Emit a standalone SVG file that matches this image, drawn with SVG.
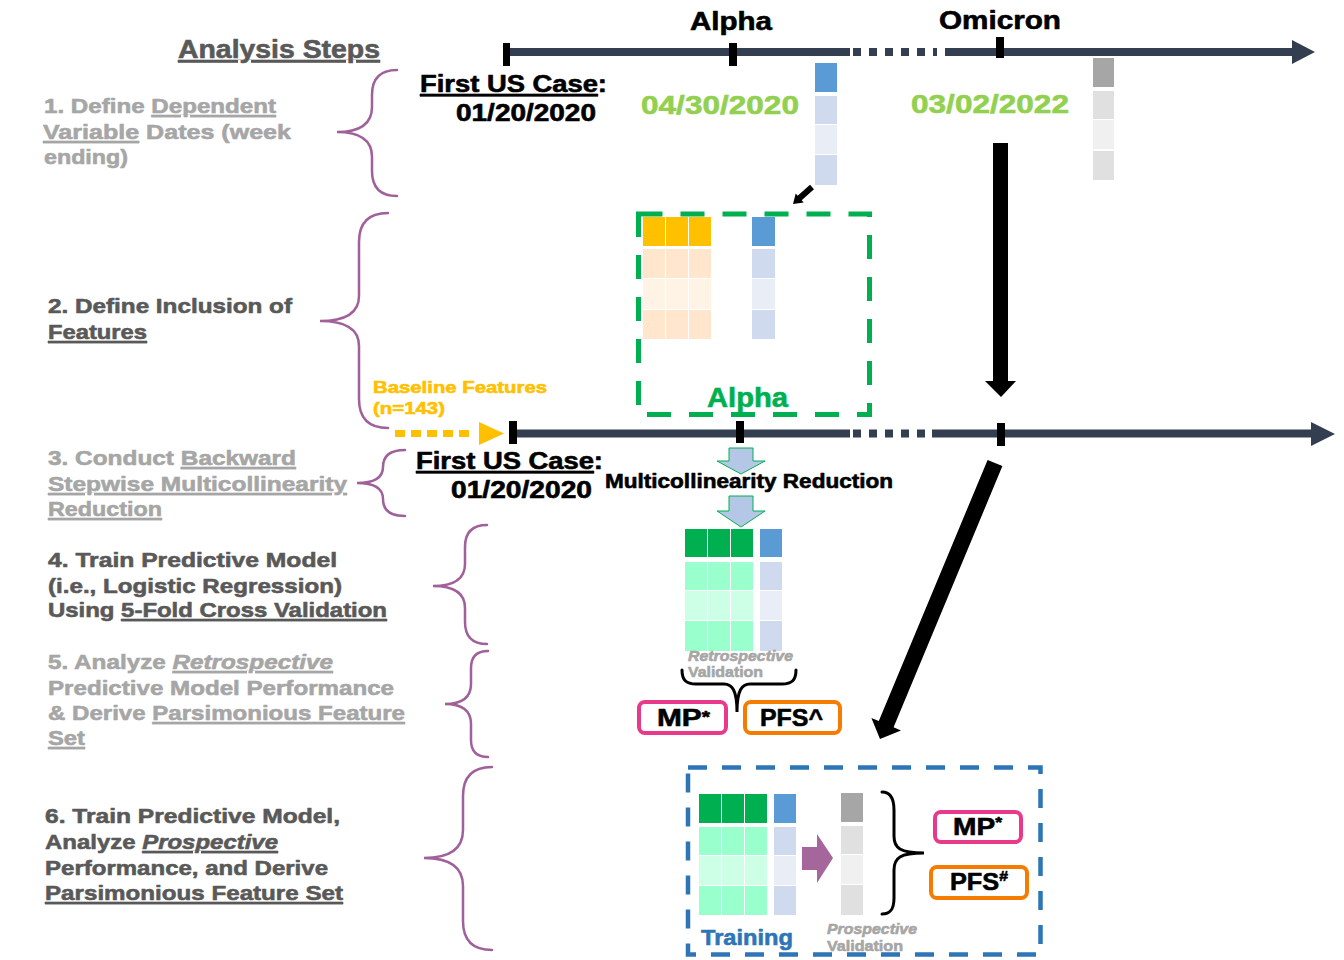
<svg xmlns="http://www.w3.org/2000/svg" width="1344" height="960" viewBox="0 0 1344 960">
<style>
text{font-family:"Liberation Sans",Arial,sans-serif;font-weight:700;stroke-width:0.6;stroke-linejoin:round}
.dk{fill:#595959;stroke:#595959}
.gr{fill:#a6a6a6;stroke:#a6a6a6}
.bk{fill:#000;stroke:#000}
.lg{fill:#92d050;stroke:#92d050}
.gn{fill:#00b050;stroke:#00b050}
.yl{fill:#ffc000;stroke:#ffc000}
.bl{fill:#2e75b6;stroke:#2e75b6}
.u{text-decoration:underline}
.i{font-style:italic}
.s20{font-size:21px}
.brace{fill:none;stroke:#a0609a;stroke-width:2.5;stroke-linecap:round}
.bbrace{fill:none;stroke:#000;stroke-width:3;stroke-linecap:round}
.tl{stroke:#333f50;stroke-width:8;fill:none}
.tld{stroke:#333f50;stroke-width:8;fill:none;stroke-dasharray:8 8}
.tick{fill:#000}
.b0{fill:#5b9bd5}.b1{fill:#cfdaee}.b2{fill:#e9edf6}
.g0{fill:#a6a6a6}.g1{fill:#e0e0e0}.g2{fill:#f0f0f0}
.o0{fill:#ffc000}.o1{fill:#ffe6cc}.o2{fill:#fff3e6}
.n0{fill:#00b050}.n1{fill:#99ffcc}.n2{fill:#ccffe6}
.mp{fill:#fff;stroke:#e8398b;stroke-width:4}
.pfs{fill:#fff;stroke:#f57c00;stroke-width:4}
.dnarrow{fill:#b4c7e7;stroke:#00b050;stroke-width:1}
</style>

<g id="steps">
<text x="178" y="58" font-size="25" class="dk u" textLength="202" lengthAdjust="spacingAndGlyphs">Analysis Steps</text>

<g id="step1">
<text x="44" y="113" class="gr s20" textLength="232" lengthAdjust="spacingAndGlyphs">1. Define <tspan class="u">Dependent</tspan></text>
<text x="43" y="139" class="gr s20" textLength="248" lengthAdjust="spacingAndGlyphs"><tspan class="u">Variable</tspan> Dates (week</text>
<text x="44" y="164" class="gr s20" textLength="84" lengthAdjust="spacingAndGlyphs">ending)</text>
</g>
<g id="step2">
<text x="48" y="313" class="dk s20" textLength="244" lengthAdjust="spacingAndGlyphs">2. Define Inclusion of</text>
<text x="48" y="339" class="dk s20 u" textLength="99" lengthAdjust="spacingAndGlyphs">Features</text>
</g>
<g id="step3">
<text x="48" y="465" class="gr s20" textLength="248" lengthAdjust="spacingAndGlyphs">3. Conduct <tspan class="u">Backward</tspan></text>
<text x="48" y="491" class="gr s20 u" textLength="299" lengthAdjust="spacingAndGlyphs">Stepwise Multicollinearity</text>
<text x="48" y="516" class="gr s20 u" textLength="114" lengthAdjust="spacingAndGlyphs">Reduction</text>
</g>
<g id="step4">
<text x="48" y="567" class="dk s20" textLength="289" lengthAdjust="spacingAndGlyphs">4. Train Predictive Model</text>
<text x="48" y="593" class="dk s20" textLength="294" lengthAdjust="spacingAndGlyphs">(i.e., Logistic Regression)</text>
<text x="48" y="617" class="dk s20" textLength="339" lengthAdjust="spacingAndGlyphs">Using <tspan class="u">5-Fold Cross Validation</tspan></text>
</g>
<g id="step5">
<text x="48" y="669" class="gr s20" textLength="285" lengthAdjust="spacingAndGlyphs">5. Analyze <tspan class="u i">Retrospective</tspan></text>
<text x="48" y="695" class="gr s20" textLength="346" lengthAdjust="spacingAndGlyphs">Predictive Model Performance</text>
<text x="48" y="720" class="gr s20" textLength="357" lengthAdjust="spacingAndGlyphs">&amp; Derive <tspan class="u">Parsimonious Feature</tspan></text>
<text x="48" y="745" class="gr s20 u" textLength="37" lengthAdjust="spacingAndGlyphs">Set</text>
</g>
<g id="step6">
<text x="45" y="823" class="dk s20" textLength="295" lengthAdjust="spacingAndGlyphs">6. Train Predictive Model,</text>
<text x="45" y="849" class="dk s20" textLength="233" lengthAdjust="spacingAndGlyphs">Analyze <tspan class="u i">Prospective</tspan></text>
<text x="45" y="875" class="dk s20" textLength="283" lengthAdjust="spacingAndGlyphs">Performance, and Derive</text>
<text x="45" y="900" class="dk s20 u" textLength="298" lengthAdjust="spacingAndGlyphs">Parsimonious Feature Set</text>
</g>
</g>

<g id="braces">
<path class="brace" d="M397,70 Q372,70 372,95 L372,107 Q372,132 337,132 Q372,132 372,157 L372,171 Q372,196 397,196"/>
<path class="brace" d="M388,213 Q359,213 359,242 L359,296 Q359,321 320,321 Q359,321 359,346 L359,399 Q359,428 388,428"/>
<path class="brace" d="M405,450 Q383,450 383,467 Q383,483 357,483 Q383,483 383,499 Q383,516 405,516"/>
<path class="brace" d="M487,525 Q465,525 465,547 L465,564 Q465,586 433,586 Q465,586 465,608 L465,622 Q465,644 487,644"/>
<path class="brace" d="M488,651 Q471,651 471,668 L471,684 Q471,704 445,704 Q471,704 471,724 L471,740 Q471,757 488,757"/>
<path class="brace" d="M492,767 Q463,767 463,796 L463,830 Q463,858 424,858 Q463,858 463,886 L463,921 Q463,950 492,950"/>
</g>

<g id="timeline-top">
<line class="tl" x1="506" y1="52" x2="850" y2="52"/>
<line class="tld" x1="853" y1="52" x2="937" y2="52"/>
<line class="tl" x1="945" y1="52" x2="1296" y2="52"/>
<polygon fill="#333f50" points="1292,40 1315,52 1292,64"/>
<rect class="tick" x="503" y="43" width="7" height="23"/>
<rect class="tick" x="729" y="43" width="8" height="23"/>
<rect class="tick" x="996" y="37" width="8" height="21"/>
<text x="690" y="30" font-size="25" class="bk" textLength="82" lengthAdjust="spacingAndGlyphs">Alpha</text>
<text x="939" y="29" font-size="25" class="bk" textLength="122" lengthAdjust="spacingAndGlyphs">Omicron</text>
<text x="420" y="92" font-size="23" class="bk" textLength="187" lengthAdjust="spacingAndGlyphs"><tspan class="u">First US Case</tspan>:</text>
<text x="456" y="121" font-size="23" class="bk" textLength="140" lengthAdjust="spacingAndGlyphs">01/20/2020</text>
<text x="641" y="114" font-size="26" class="lg" textLength="158" lengthAdjust="spacingAndGlyphs">04/30/2020</text>
<text x="911" y="113" font-size="26" class="lg" textLength="158" lengthAdjust="spacingAndGlyphs">03/02/2022</text>
</g>

<g id="col-alpha-dates">
<rect class="b0" x="815" y="63" width="22" height="29"/>
<rect class="b1" x="815" y="96" width="22" height="28"/>
<rect class="b2" x="815" y="125" width="22" height="29"/>
<rect class="b1" x="815" y="155" width="22" height="30"/>
</g>
<g id="col-omicron-dates">
<rect class="g0" x="1093" y="58" width="21" height="29"/>
<rect class="g1" x="1093" y="91" width="21" height="28"/>
<rect class="g2" x="1093" y="120" width="21" height="29"/>
<rect class="g1" x="1093" y="151" width="21" height="29"/>
</g>

<g id="alpha-box">
<rect x="638.5" y="214" width="231" height="200.5" fill="none" stroke="#00b050" stroke-width="5" stroke-dasharray="24 18"/>
<rect class="o0" x="643" y="217" width="22" height="29"/>
<rect class="o0" x="666" y="217" width="22" height="29"/>
<rect class="o0" x="689" y="217" width="22" height="29"/>
<rect class="o1" x="643" y="249" width="22" height="29"/>
<rect class="o1" x="666" y="249" width="22" height="29"/>
<rect class="o1" x="689" y="249" width="22" height="29"/>
<rect class="o2" x="643" y="279" width="22" height="30"/>
<rect class="o2" x="666" y="279" width="22" height="30"/>
<rect class="o2" x="689" y="279" width="22" height="30"/>
<rect class="o1" x="643" y="310" width="22" height="29"/>
<rect class="o1" x="666" y="310" width="22" height="29"/>
<rect class="o1" x="689" y="310" width="22" height="29"/>
<rect class="b0" x="752" y="217" width="23" height="29"/>
<rect class="b1" x="752" y="249" width="23" height="29"/>
<rect class="b2" x="752" y="279" width="23" height="30"/>
<rect class="b1" x="752" y="310" width="23" height="29"/>
<text x="707" y="407" font-size="27" class="gn" textLength="81" lengthAdjust="spacingAndGlyphs">Alpha</text>
</g>

<g id="baseline-features">
<text x="373" y="393" font-size="17" class="yl" textLength="174" lengthAdjust="spacingAndGlyphs">Baseline Features</text>
<text x="373" y="414" font-size="17" class="yl" textLength="72" lengthAdjust="spacingAndGlyphs">(n=143)</text>
</g>

<g id="timeline-bottom">
<line class="tl" x1="513" y1="433.5" x2="850" y2="433.5"/>
<line class="tld" x1="853" y1="433.5" x2="930" y2="433.5"/>
<line class="tl" x1="932" y1="433.5" x2="1314" y2="433.5"/>
<polygon fill="#333f50" points="1311,422 1335,434 1311,446"/>
<rect class="tick" x="509" y="421" width="8" height="23"/>
<rect class="tick" x="736" y="421" width="8" height="22"/>
<rect class="tick" x="997" y="423" width="8" height="23"/>
<text x="416" y="469" font-size="23" class="bk" textLength="187" lengthAdjust="spacingAndGlyphs"><tspan class="u">First US Case</tspan>:</text>
<text x="451" y="498" font-size="23" class="bk" textLength="141" lengthAdjust="spacingAndGlyphs">01/20/2020</text>
<text x="605" y="488" font-size="20" class="bk" textLength="288" lengthAdjust="spacingAndGlyphs">Multicollinearity Reduction</text>
</g>

<g id="retro-table">
<rect class="n0" x="685" y="529" width="22" height="28"/>
<rect class="n0" x="708" y="529" width="22" height="28"/>
<rect class="n0" x="731" y="529" width="22" height="28"/>
<rect class="n1" x="685" y="562" width="22" height="28"/>
<rect class="n1" x="708" y="562" width="22" height="28"/>
<rect class="n1" x="731" y="562" width="22" height="28"/>
<rect class="n2" x="685" y="591" width="22" height="29"/>
<rect class="n2" x="708" y="591" width="22" height="29"/>
<rect class="n2" x="731" y="591" width="22" height="29"/>
<rect class="n1" x="685" y="621" width="22" height="30"/>
<rect class="n1" x="708" y="621" width="22" height="30"/>
<rect class="n1" x="731" y="621" width="22" height="30"/>
<rect class="b0" x="760" y="529" width="22" height="28"/>
<rect class="b1" x="760" y="562" width="22" height="28"/>
<rect class="b2" x="760" y="591" width="22" height="29"/>
<rect class="b1" x="760" y="621" width="22" height="30"/>
<text x="688" y="661" font-size="15" class="gr i" textLength="105" lengthAdjust="spacingAndGlyphs">Retrospective</text>
<text x="688" y="677" font-size="15" class="gr" textLength="75" lengthAdjust="spacingAndGlyphs">Validation</text>
<path class="bbrace" d="M682,670 C682,680 686,684 696,684 L724,684 C732,684 737,690 737,712 C737,690 742,684 750,684 L782,684 C792,684 796,680 796,670"/>
</g>

<g id="retro-mp">
<rect class="mp" x="639" y="702" width="87" height="31" rx="6"/>
<text x="657" y="726" font-size="24" class="bk" textLength="53" lengthAdjust="spacingAndGlyphs">MP<tspan font-size="17" dy="-3">*</tspan></text>
</g>
<g id="retro-pfs">
<rect class="pfs" x="745" y="702" width="95" height="31" rx="6"/>
<text x="760" y="726" font-size="24" class="bk" textLength="63" lengthAdjust="spacingAndGlyphs">PFS^</text>
</g>

<g id="prospective-box">
<rect x="688" y="767.5" width="352.5" height="187" fill="none" stroke="#2e75b6" stroke-width="4.5" stroke-dasharray="19 15"/>
<rect class="n0" x="699" y="794" width="22" height="29"/>
<rect class="n0" x="722" y="794" width="22" height="29"/>
<rect class="n0" x="745" y="794" width="22" height="29"/>
<rect class="n1" x="699" y="827" width="22" height="28"/>
<rect class="n1" x="722" y="827" width="22" height="28"/>
<rect class="n1" x="745" y="827" width="22" height="28"/>
<rect class="n2" x="699" y="856" width="22" height="29"/>
<rect class="n2" x="722" y="856" width="22" height="29"/>
<rect class="n2" x="745" y="856" width="22" height="29"/>
<rect class="n1" x="699" y="886" width="22" height="29"/>
<rect class="n1" x="722" y="886" width="22" height="29"/>
<rect class="n1" x="745" y="886" width="22" height="29"/>
<rect class="b0" x="774" y="794" width="22" height="29"/>
<rect class="b1" x="774" y="827" width="22" height="28"/>
<rect class="b2" x="774" y="856" width="22" height="29"/>
<rect class="b1" x="774" y="886" width="22" height="29"/>
<polygon fill="#a5669b" points="802,847 817,847 817,834 833,858 817,883 817,870 802,870"/>
<rect class="g0" x="841" y="793" width="22" height="29"/>
<rect class="g1" x="841" y="826" width="22" height="28"/>
<rect class="g2" x="841" y="855" width="22" height="29"/>
<rect class="g1" x="841" y="885" width="22" height="30"/>
<path class="bbrace" d="M882,792 C890,792 894,798 894,810 L894,836 C894,848 900,853 924,853 C900,853 894,858 894,870 L894,898 C894,910 890,914 882,914"/>
<text x="701" y="945" font-size="22" class="bl" textLength="92" lengthAdjust="spacingAndGlyphs">Training</text>
<text x="827" y="934" font-size="15" class="gr i" textLength="90" lengthAdjust="spacingAndGlyphs">Prospective</text>
<text x="827" y="951" font-size="15" class="gr" textLength="76" lengthAdjust="spacingAndGlyphs">Validation</text>
</g>
<g id="prosp-mp">
<rect class="mp" x="935" y="812" width="86" height="30" rx="6"/>
<text x="953" y="835" font-size="24" class="bk" textLength="49" lengthAdjust="spacingAndGlyphs">MP<tspan font-size="15" dy="-8">*</tspan></text>
</g>
<g id="prosp-pfs">
<rect class="pfs" x="931" y="867" width="96" height="31" rx="6"/>
<text x="950" y="890" font-size="24" class="bk" textLength="58" lengthAdjust="spacingAndGlyphs">PFS<tspan font-size="15" dy="-9">#</tspan></text>
</g>

<g id="connectors">
<line x1="395" y1="433.5" x2="474" y2="433.5" stroke="#ffc000" stroke-width="7" stroke-dasharray="10 6"/>
<polygon fill="#ffc000" points="479,422 504,433.5 479,445"/>
<polygon fill="#000" points="810,184.8 814,189.2 801.7,200.2 803.7,202.5 793,204 795.7,193.5 797.7,195.8"/>
<rect fill="#000" x="993" y="143" width="15" height="239"/>
<polygon fill="#000" points="985,381 1016,381 1001,397"/>
<polygon class="dnarrow" points="729,448 753,448 753,461 765,461 741,474 717,461 729,461"/>
<polygon class="dnarrow" points="729,496 753,496 753,511 765,511 741,527 717,511 729,511"/>
<polygon fill="#000" points="987.6,459.9 1002.4,466.1 893.6,727.3 901,730.4 880,739 871.4,718 878.8,721.1"/>
</g>
</svg>
